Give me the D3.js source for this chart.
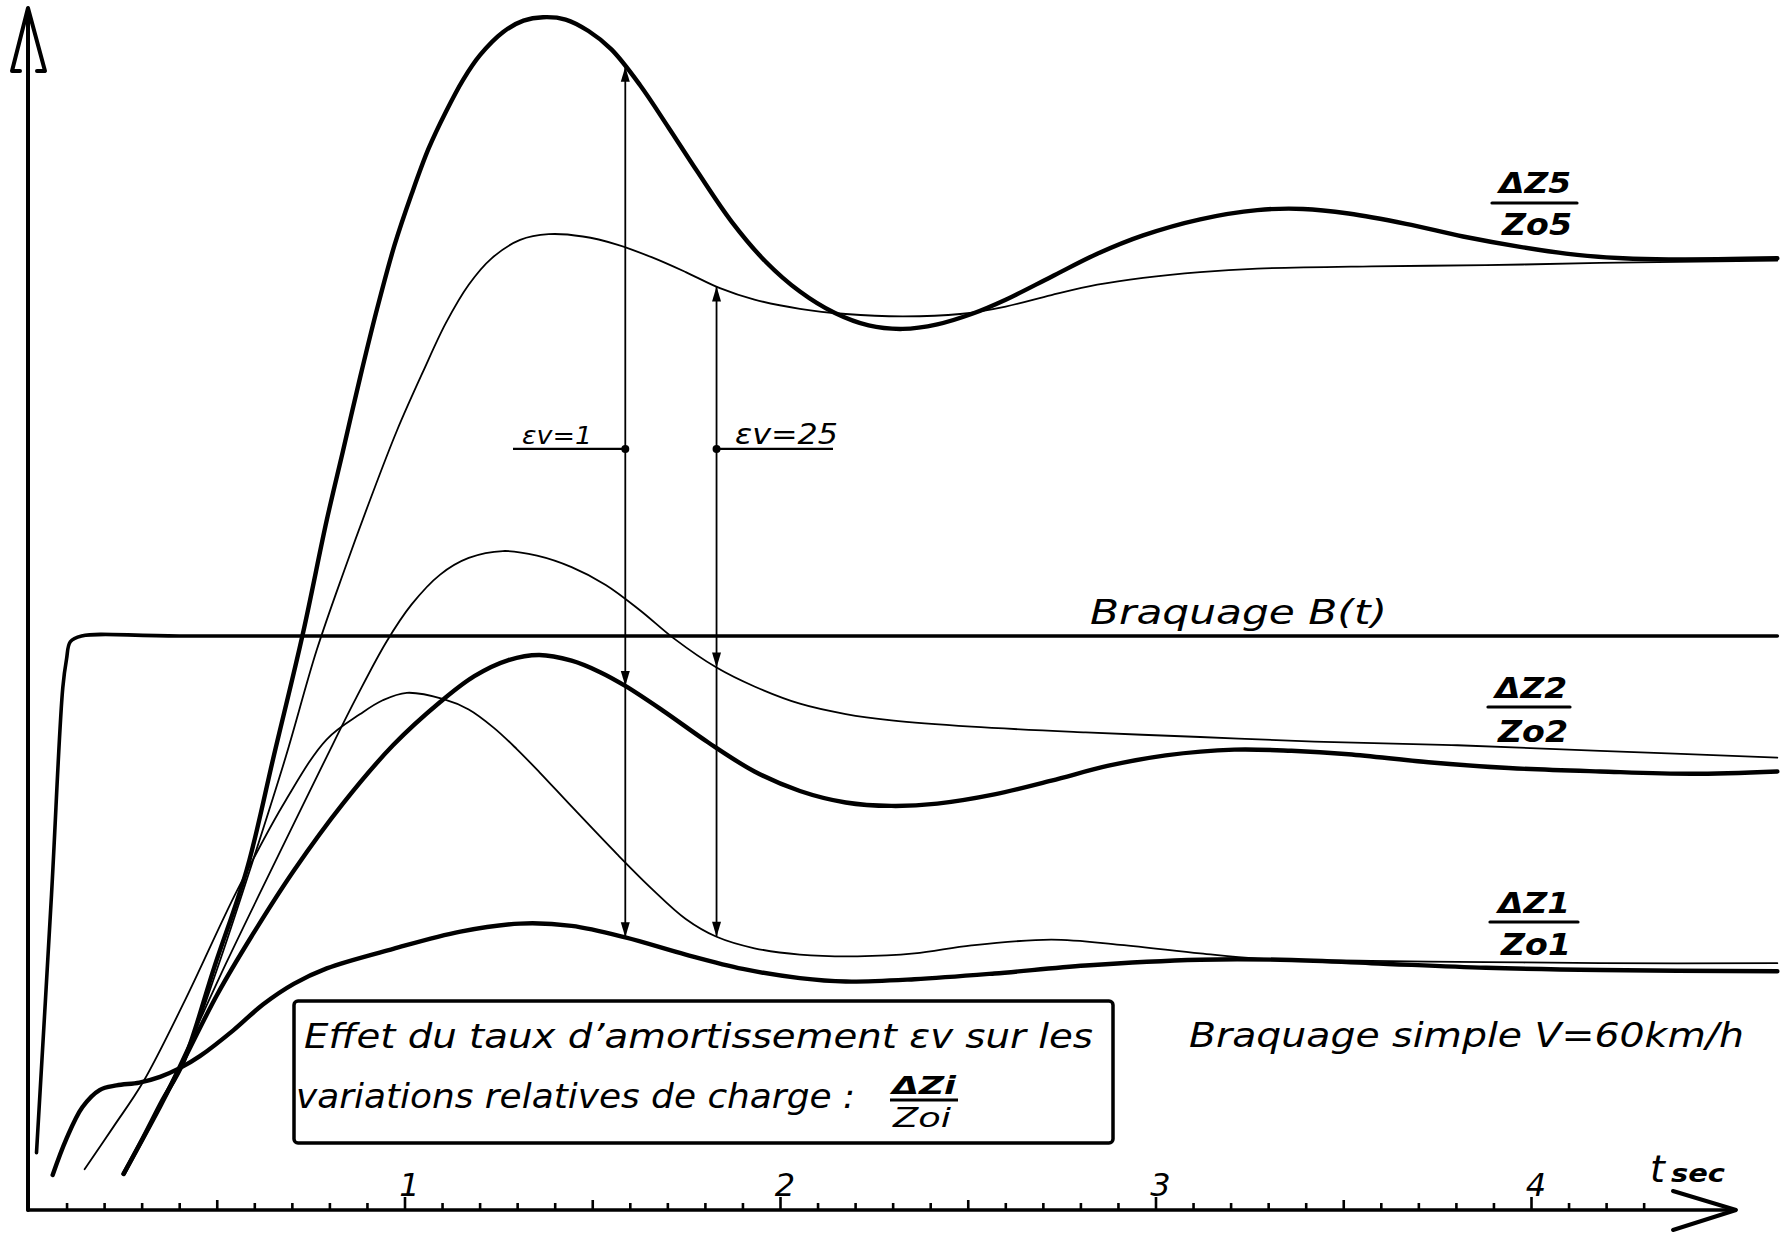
<!DOCTYPE html>
<html>
<head>
<meta charset="utf-8">
<script src="https://cdn.jsdelivr.net/npm/d3@7"></script>
<style>
  html, body { margin: 0; padding: 0; background: #fff; }
  svg { display: block; }
  .lettering { font-family: "DejaVu Sans", "Liberation Sans", sans-serif; font-style: oblique; fill: #000; }
</style>
</head>
<body>
<svg id="chart" width="1792" height="1233"></svg>
<script>
// ---- axis ticks (seconds) ----
const secondTicks = [1, 2, 3, 4];
const halfTicks = [0.5, 1.5, 2.5, 3.5];
const minorTicks = d3.range(1, 44).map(i => i / 10);

// ---- steering input B(t) : [t (s), level] ----
const braquage = [[0.02,0.10],[0.06,0.55],[0.09,0.91],[0.10,0.96],[0.11,0.99],[0.14,1.0],[0.40,1.0],[4.656,1.0]];

// ---- relative load variations ΔZi/Zoi, damping εv = 1 (heavy) and εv = 25 (light) ----
const dz5_e1 = [[0.252,0.063],[0.303,0.125],[0.355,0.191],[0.410,0.256],[0.495,0.426],[0.580,0.593],[0.653,0.794],[0.729,1.003],[0.793,1.202],[0.836,1.322],[0.882,1.451],[0.927,1.570],[0.973,1.680],[1.019,1.770],[1.064,1.849],[1.110,1.913],[1.156,1.969],[1.201,2.012],[1.262,2.052],[1.317,2.072],[1.369,2.078],[1.429,2.074],[1.490,2.054],[1.551,2.022],[1.627,1.960],[1.703,1.886],[1.779,1.810],[1.871,1.722],[1.962,1.652],[2.053,1.600],[2.145,1.563],[2.236,1.541],[2.327,1.535],[2.419,1.543],[2.510,1.561],[2.601,1.586],[2.723,1.626],[2.845,1.666],[2.967,1.698],[3.119,1.726],[3.271,1.742],[3.393,1.744],[3.514,1.736],[3.667,1.718],[3.819,1.696],[3.971,1.678],[4.123,1.664],[4.245,1.658],[4.367,1.656],[4.656,1.658]];
const dz5_e25 = [[0.252,0.063],[0.334,0.161],[0.410,0.256],[0.501,0.420],[0.592,0.600],[0.684,0.790],[0.766,0.975],[0.840,1.115],[0.910,1.240],[0.980,1.358],[1.049,1.460],[1.110,1.545],[1.171,1.612],[1.232,1.658],[1.308,1.690],[1.384,1.700],[1.475,1.696],[1.566,1.682],[1.658,1.660],[1.749,1.634],[1.840,1.606],[1.932,1.586],[2.053,1.570],[2.175,1.561],[2.327,1.557],[2.480,1.561],[2.601,1.574],[2.723,1.594],[2.845,1.612],[2.967,1.624],[3.119,1.634],[3.271,1.640],[3.575,1.644],[3.880,1.646],[4.184,1.650],[4.656,1.654]];
const dz2_e1 = [[0.252,0.063],[0.349,0.180],[0.410,0.258],[0.501,0.375],[0.592,0.476],[0.705,0.591],[0.836,0.708],[0.970,0.810],[1.095,0.885],[1.186,0.930],[1.277,0.958],[1.359,0.967],[1.445,0.957],[1.521,0.937],[1.588,0.913],[1.688,0.870],[1.810,0.814],[1.932,0.764],[2.053,0.730],[2.175,0.710],[2.297,0.704],[2.419,0.708],[2.571,0.724],[2.723,0.748],[2.875,0.774],[3.027,0.792],[3.210,0.802],[3.362,0.800],[3.514,0.794],[3.727,0.780],[3.941,0.770],[4.184,0.764],[4.428,0.760],[4.656,0.764]];
const dz2_e25 = [[0.252,0.063],[0.319,0.147],[0.395,0.246],[0.525,0.430],[0.650,0.599],[0.793,0.790],[0.872,0.893],[0.952,0.990],[1.019,1.055],[1.095,1.107],[1.171,1.136],[1.262,1.148],[1.353,1.140],[1.445,1.120],[1.536,1.089],[1.627,1.045],[1.719,0.995],[1.831,0.945],[1.932,0.912],[2.053,0.882],[2.175,0.864],[2.297,0.853],[2.510,0.842],[2.814,0.832],[3.119,0.824],[3.423,0.816],[3.788,0.810],[4.184,0.800],[4.656,0.788]];
const dz1_e1 = [[0.063,0.061],[0.099,0.123],[0.142,0.179],[0.188,0.209],[0.233,0.217],[0.294,0.222],[0.349,0.232],[0.404,0.248],[0.455,0.268],[0.544,0.313],[0.623,0.358],[0.705,0.394],[0.793,0.421],[0.970,0.455],[1.149,0.485],[1.308,0.499],[1.445,0.495],[1.588,0.475],[1.749,0.445],[1.901,0.420],[2.053,0.404],[2.175,0.398],[2.358,0.402],[2.571,0.412],[2.814,0.426],[3.119,0.436],[3.332,0.436],[3.575,0.430],[3.880,0.422],[4.184,0.418],[4.656,0.416]];
const dz1_e25 = [[0.148,0.071],[0.227,0.147],[0.303,0.222],[0.416,0.366],[0.553,0.555],[0.684,0.714],[0.793,0.820],[0.882,0.864],[0.942,0.888],[1.006,0.901],[1.104,0.890],[1.171,0.872],[1.238,0.840],[1.299,0.803],[1.359,0.763],[1.445,0.703],[1.566,0.620],[1.658,0.560],[1.749,0.507],[1.831,0.476],[1.932,0.456],[2.053,0.445],[2.206,0.442],[2.358,0.447],[2.510,0.461],[2.723,0.471],[2.906,0.462],[3.119,0.447],[3.271,0.438],[3.575,0.434],[3.880,0.432],[4.184,0.430],[4.656,0.430]];

// ---- damping markers ----
const markerTimes = [1.588, 1.831];
const markerLabels = ["εv=1", "εv=25"];
const markerLevel = 1.326;

// ---- curve labels ----
const curveNums = ["ΔZ5", "ΔZ2", "ΔZ1"];
const curveDens = ["Zo5", "Zo2", "Zo1"];

// ---------------------------------------------------------------
const svg = d3.select("#chart");
const x = d3.scaleLinear().domain([0, 4]).range([29, 29 + 375.5 * 4]);
const y = d3.scaleLinear().domain([0, 1]).range([1210, 636]);
const ink = "#000";

const line = d3.line().x(d => x(d[0])).y(d => y(d[1])).curve(d3.curveCatmullRom.alpha(0.5));

// axes
const axisG = svg.append("g").attr("stroke", ink).attr("fill", "none")
  .attr("stroke-linecap", "round").attr("stroke-linejoin", "round");
axisG.append("line").attr("x1", 28).attr("y1", 1210).attr("x2", 28).attr("y2", 12).attr("stroke-width", 4);
axisG.append("path").attr("d", "M20,71 L12,71 L28,8 L45,71 L37,71").attr("stroke-width", 4);
axisG.append("line").attr("x1", 28).attr("y1", 1210).attr("x2", 1733).attr("y2", 1210).attr("stroke-width", 3.5);
axisG.append("path").attr("d", "M1673,1191 L1736,1210 L1673,1230").attr("stroke-width", 4);

// tick marks drawn upward from the time axis
function tickAxis(values, len) {
  const g = svg.append("g").attr("transform", "translate(0,1210)")
    .call(d3.axisBottom(x).tickValues(values).tickSizeInner(-len).tickSizeOuter(0).tickFormat(""));
  g.select(".domain").remove();
  g.selectAll(".tick line").attr("stroke", ink).attr("stroke-width", 2.6);
}
tickAxis(minorTicks.filter(t => Math.abs(t * 2 - Math.round(t * 2)) > 1e-6), 7);
tickAxis(halfTicks, 10);
tickAxis(secondTicks, 13);

svg.append("g").selectAll("text").data(secondTicks).join("text")
  .attr("class", "lettering").attr("x", d => x(d) + 5).attr("y", 1196)
  .attr("text-anchor", "middle").attr("font-size", 32).text(d => d);
svg.append("text").attr("class", "lettering").attr("x", 1650).attr("y", 1182).attr("font-size", 38).text("t");
svg.append("text").attr("class", "lettering").attr("x", 1671).attr("y", 1182).attr("font-size", 24)
  .attr("textLength", 54).attr("lengthAdjust", "spacingAndGlyphs").attr("font-weight", "bold").text("sec");

// curves
const curves = [
  { data: braquage, w: 3.6 },
  { data: dz5_e25, w: 1.8 },
  { data: dz2_e25, w: 1.8 },
  { data: dz1_e25, w: 1.8 },
  { data: dz5_e1, w: 4.4 },
  { data: dz2_e1, w: 4.4 },
  { data: dz1_e1, w: 4.4 }
];
svg.append("g").selectAll("path").data(curves).join("path")
  .attr("d", d => line(d.data)).attr("fill", "none").attr("stroke", ink)
  .attr("stroke-width", d => d.w).attr("stroke-linecap", "round").attr("stroke-linejoin", "round");

// value of a series at time t (linear between samples)
function valueAt(series, t) {
  const i = Math.max(1, d3.bisector(d => d[0]).left(series, t));
  const a = series[i - 1], b = series[i];
  return a[1] + (b[1] - a[1]) * (t - a[0]) / (b[0] - a[0]);
}

function arrowHead(g, px, py, dir) {
  const L = 15, W = 4.5;
  g.append("path").attr("d", `M${px},${py} L${px - W},${py - dir * L} L${px + W},${py - dir * L} Z`).attr("fill", ink);
}

const markerSets = [[dz5_e1, dz2_e1, dz1_e1], [dz5_e25, dz2_e25, dz1_e25]];
markerTimes.forEach((t, k) => {
  const g = svg.append("g");
  const px = x(t);
  const [top, mid, bot] = markerSets[k].map(s => y(valueAt(s, t)));
  g.append("line").attr("x1", px).attr("x2", px).attr("y1", top).attr("y2", bot)
    .attr("stroke", ink).attr("stroke-width", 1.8);
  arrowHead(g, px, top, -1);
  arrowHead(g, px, mid, 1);
  arrowHead(g, px, bot, 1);
  const ly = y(markerLevel);
  g.append("circle").attr("cx", px).attr("cy", ly).attr("r", 4).attr("fill", ink);
  const x0 = k === 0 ? 513 : px, x1 = k === 0 ? px : 833;
  g.append("line").attr("x1", x0).attr("x2", x1).attr("y1", ly).attr("y2", ly)
    .attr("stroke", ink).attr("stroke-width", 2.2);
  g.append("text").attr("class", "lettering")
    .attr("x", k === 0 ? 522 : 735).attr("y", ly - 5)
    .attr("font-size", k === 0 ? 25 : 29)
    .attr("textLength", k === 0 ? 70 : 103).attr("lengthAdjust", "spacingAndGlyphs")
    .text(markerLabels[k]);
});

// curve labels as fractions
const fracPos = [
  { cx: 1535, base: 193, bar: 203, x0: 1492, x1: 1577, den: 235 },
  { cx: 1531, base: 698, bar: 707, x0: 1488, x1: 1570, den: 742 },
  { cx: 1534, base: 913, bar: 922, x0: 1490, x1: 1578, den: 955 }
];
fracPos.forEach((p, i) => {
  const g = svg.append("g");
  g.append("text").attr("class", "lettering").attr("x", p.cx).attr("y", p.base)
    .attr("text-anchor", "middle").attr("font-size", 29).attr("font-weight", "bold")
    .attr("textLength", 72).attr("lengthAdjust", "spacingAndGlyphs").text(curveNums[i]);
  g.append("line").attr("x1", p.x0).attr("x2", p.x1).attr("y1", p.bar).attr("y2", p.bar)
    .attr("stroke", ink).attr("stroke-width", 3.2).attr("stroke-linecap", "round");
  g.append("text").attr("class", "lettering").attr("x", p.cx + 2).attr("y", p.den)
    .attr("text-anchor", "middle").attr("font-size", 30).attr("font-weight", "bold")
    .attr("textLength", 70).attr("lengthAdjust", "spacingAndGlyphs").text(curveDens[i]);
});

// labels
svg.append("text").attr("class", "lettering").attr("x", 1090).attr("y", 624).attr("font-size", 33)
  .attr("textLength", 297).attr("lengthAdjust", "spacingAndGlyphs").text("Braquage B(t)");
svg.append("text").attr("class", "lettering").attr("x", 1189).attr("y", 1047).attr("font-size", 33)
  .attr("textLength", 555).attr("lengthAdjust", "spacingAndGlyphs").text("Braquage simple V=60km/h");

// caption box
const box = svg.append("g");
box.append("rect").attr("x", 294).attr("y", 1001).attr("width", 819).attr("height", 142).attr("rx", 4)
  .attr("fill", "none").attr("stroke", ink).attr("stroke-width", 3.5);
box.append("text").attr("class", "lettering").attr("x", 304).attr("y", 1048).attr("font-size", 34)
  .attr("textLength", 789).attr("lengthAdjust", "spacingAndGlyphs").text("Effet du taux d’amortissement εv sur les");
box.append("text").attr("class", "lettering").attr("x", 296).attr("y", 1108).attr("font-size", 33)
  .attr("textLength", 559).attr("lengthAdjust", "spacingAndGlyphs").text("variations relatives de charge :");
box.append("text").attr("class", "lettering").attr("x", 924).attr("y", 1094).attr("font-size", 25)
  .attr("text-anchor", "middle").attr("font-weight", "bold")
  .attr("textLength", 64).attr("lengthAdjust", "spacingAndGlyphs").text("ΔZi");
box.append("line").attr("x1", 890).attr("x2", 958).attr("y1", 1100).attr("y2", 1100)
  .attr("stroke", ink).attr("stroke-width", 3);
box.append("text").attr("class", "lettering").attr("x", 922).attr("y", 1127).attr("font-size", 27)
  .attr("text-anchor", "middle")
  .attr("textLength", 58).attr("lengthAdjust", "spacingAndGlyphs").text("Zoi");
</script>
</body>
</html>
